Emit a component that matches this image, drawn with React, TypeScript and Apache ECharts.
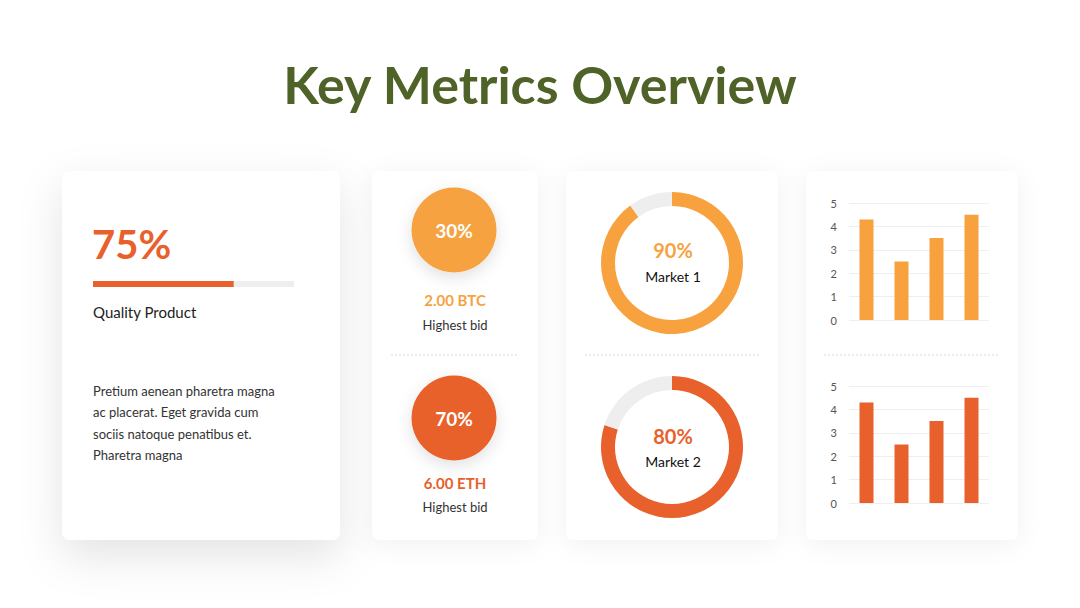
import React, { useEffect, useRef } from "react";
import * as echarts from "echarts";

const LIGHT = "#F7A23F";
const DARK = "#E8612C";
const GREY = "#EEEEEE";

const titleText = "Key Metrics Overview";
const qualityLabel = "75%";
const qualityProgress = [70];
const qualityTitle = "Quality Product";
const paragraphLines = [
  "Pretium aenean pharetra magna",
  "ac placerat. Eget gravida cum",
  "sociis natoque penatibus et.",
  "Pharetra magna",
];
const bidPercents = ["30%", "70%"];
const bidValues = ["2.00 BTC", "6.00 ETH"];
const bidLabel = "Highest bid";
const marketNames = ["Market 1", "Market 2"];
const marketValues = [90, 80];
const barCategories = ["A", "B", "C", "D"];
const barValues1 = [4.3, 2.5, 3.5, 4.5];
const barValues2 = [4.3, 2.5, 3.5, 4.5];

const FONT = "Lato, 'Open Sans', sans-serif";

export default function App() {
  const ref = useRef<HTMLDivElement>(null);
  useEffect(() => {
    if (!ref.current) return;
    const chart = echarts.init(ref.current, null, { renderer: "svg" });

    const card = (x: number, y: number, w: number, h: number, big = false) => ({
      type: "rect",
      shape: { x, y, width: w, height: h, r: 8 },
      style: {
        fill: "#fff",
        shadowBlur: big ? 44 : 24,
        shadowColor: big ? "rgba(0,0,0,0.11)" : "rgba(0,0,0,0.06)",
        shadowOffsetY: big ? 16 : 4,
      },
      z: 0,
    });
    const text = (x: number, y: number, t: string, font: string, fill: string, align = "center") => ({
      type: "text",
      x,
      y,
      style: { text: t, font, fill, textAlign: align, textVerticalAlign: "middle" },
      z: 10,
    });
    const dash = (x1: number, x2: number, y: number) => ({
      type: "line",
      shape: { x1, y1: y, x2, y2: y },
      style: { stroke: "#dadada", lineWidth: 1, lineDash: [2, 2] },
      z: 5,
    });

    const graphic: any[] = [
      text(540, 84, titleText, `bold 52px ${FONT}`, "#4F6228"),
      card(62, 171, 278, 369, true),
      card(372, 171, 166, 369),
      card(566, 171, 212, 369),
      card(806, 171, 212, 369),
      text(92, 244, qualityLabel, `bold 40px ${FONT}`, DARK, "left"),
      text(93, 312, qualityTitle, `15px ${FONT}`, "#222", "left"),
      ...paragraphLines.map((l, i) => text(93, 391 + i * 21.3, l, `13px ${FONT}`, "#333", "left")),
      dash(391, 519, 355),
      dash(585, 760, 355),
      dash(824, 998, 355),
    ];

    const circleCY = [230, 418];
    const valueY = [300, 483];
    const labelY = [325, 507];
    const circleColors = [LIGHT, DARK];
    circleCY.forEach((cy, i) => {
      graphic.push({
        type: "circle",
        shape: { cx: 454, cy, r: 42.5 },
        style: { fill: circleColors[i], shadowBlur: 16, shadowColor: "rgba(0,0,0,0.12)", shadowOffsetY: 5 },
        z: 6,
      });
      graphic.push(text(454, cy, bidPercents[i], `bold 19px ${FONT}`, "#fff"));
      graphic.push(text(455, valueY[i], bidValues[i], `bold 15px ${FONT}`, circleColors[i]));
      graphic.push(text(455, labelY[i], bidLabel, `13px ${FONT}`, "#333"));
    });

    const donutCY = [263, 447];
    const donutValY = [250, 436];
    const donutNameY = [276, 461];
    donutCY.forEach((cy, i) => {
      graphic.push(text(673, donutValY[i], marketValues[i] + "%", `bold 20px ${FONT}`, circleColors[i]));
      graphic.push(text(673, donutNameY[i], marketNames[i], `14px ${FONT}`, "#111"));
    });

    const pieSeries = marketValues.map((v, i) => ({
      type: "pie",
      center: [672, donutCY[i]],
      radius: [57, 71],
      startAngle: 90,
      clockwise: true,
      silent: true,
      label: { show: false },
      labelLine: { show: false },
      data: [
        { value: v, itemStyle: { color: circleColors[i] } },
        { value: 100 - v, itemStyle: { color: GREY } },
      ],
    }));

    const barGrids = [
      { left: 849, width: 140, top: 203, height: 117 },
      { left: 849, width: 140, top: 386, height: 117 },
    ];

    const option: any = {
      animation: false,
      backgroundColor: "#fff",
      graphic,
      grid: [
        { left: 93, width: 201, top: 281, height: 6 },
        ...barGrids,
      ],
      xAxis: [
        { gridIndex: 0, type: "value", min: 0, max: 100, show: false },
        ...barGrids.map((_, i) => ({
          gridIndex: i + 1,
          type: "category",
          data: barCategories,
          axisLine: { show: false },
          axisTick: { show: false },
          axisLabel: { show: false },
        })),
      ],
      yAxis: [
        { gridIndex: 0, type: "category", data: [""], show: false },
        ...barGrids.map((_, i) => ({
          gridIndex: i + 1,
          type: "value",
          min: 0,
          max: 5,
          interval: 1,
          axisLine: { show: false },
          axisTick: { show: false },
          axisLabel: { color: "#555", fontSize: 11, fontFamily: FONT, margin: 12 },
          splitLine: { lineStyle: { color: "#EFEFEF" } },
        })),
      ],
      series: [
        {
          type: "bar",
          xAxisIndex: 0,
          yAxisIndex: 0,
          data: qualityProgress,
          barWidth: 6,
          showBackground: true,
          backgroundStyle: { color: GREY },
          itemStyle: { color: DARK },
          silent: true,
        },
        {
          type: "bar",
          xAxisIndex: 1,
          yAxisIndex: 1,
          data: barValues1,
          barWidth: 14,
          itemStyle: { color: LIGHT },
          silent: true,
        },
        {
          type: "bar",
          xAxisIndex: 2,
          yAxisIndex: 2,
          data: barValues2,
          barWidth: 14,
          itemStyle: { color: DARK },
          silent: true,
        },
        ...pieSeries,
      ],
    };
    chart.setOption(option);
    return () => chart.dispose();
  }, []);
  return (
    <div
      ref={ref}
      style={{ position: "fixed", left: 0, top: 0, width: 1080, height: 608, background: "#fff" }}
    />
  );
}
